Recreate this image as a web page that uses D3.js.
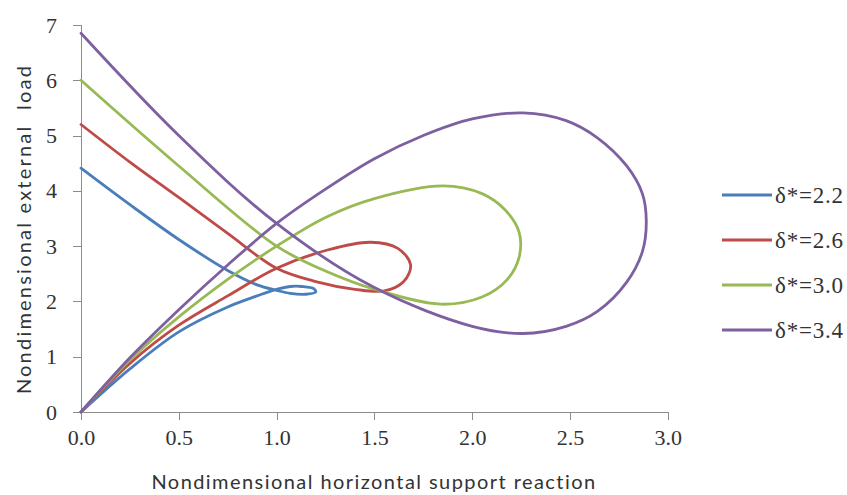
<!DOCTYPE html>
<html>
<head>
<meta charset="utf-8">
<script src="https://cdn.jsdelivr.net/npm/d3@7"></script>
<style>
  html, body { margin: 0; padding: 0; background: #fff; }
  svg { display: block; }
  .axis path, .axis line { stroke: #8c8c8c; stroke-width: 1; shape-rendering: crispEdges; }
</style>
</head>
<body>
<svg id="chart" width="847" height="495"></svg>
<script>
// Load–reaction paths (horizontal support reaction, external load), listed in path order:
// from the load axis down the descending branch, round the loop, back to the origin.
const delta22 = [[0,4.41],[0.25,3.75],[0.5,3.12],[0.75,2.56],[0.9,2.3],[1.0,2.2],[1.07,2.145],
  [1.15,2.13],[1.2,2.17],[1.19,2.23],[1.13,2.27],[1.07,2.27],[0.99,2.21],[0.9,2.1],[0.75,1.9],
  [0.5,1.45],[0.25,0.78],[0,0]];
const delta26 = [[0,5.2],[0.25,4.52],[0.5,3.88],[0.75,3.23],[1.0,2.6],[1.2,2.36],[1.4,2.22],[1.55,2.19],
  [1.65,2.36],[1.685,2.66],[1.62,2.96],[1.48,3.07],[1.26,2.93],[1.0,2.6],[0.75,2.1],[0.5,1.57],
  [0.25,0.88],[0,0]];
const delta30 = [[0,6.0],[0.5,4.45],[1.0,3.0],[1.25,2.55],[1.5,2.22],[1.84,1.95],[2.05,2.08],
  [2.18,2.4],[2.24,2.8],[2.24,3.25],[2.17,3.65],[2.05,3.95],[1.85,4.09],[1.5,3.86],[1.25,3.52],
  [1.0,3.0],[0.75,2.4],[0.5,1.72],[0.25,0.94],[0,0]];
const delta34 = [[0,6.85],[0.5,5.0],[1.0,3.41],[1.5,2.25],[2.0,1.55],[2.26,1.42],[2.48,1.55],
  [2.64,1.82],[2.79,2.35],[2.87,2.9],[2.89,3.45],[2.87,3.95],[2.79,4.45],[2.64,4.96],[2.48,5.27],
  [2.26,5.41],[2.0,5.3],[1.75,5.0],[1.5,4.58],[1.25,4.03],[1.0,3.41],[0.75,2.66],[0.5,1.85],
  [0.25,0.98],[0,0]];

const seriesNames = ["δ*=2.2", "δ*=2.6", "δ*=3.0", "δ*=3.4"];
const seriesData = [delta22, delta26, delta30, delta34];
const seriesColors = ["#4a7ebb", "#be4b48", "#98b954", "#7d60a0"];

const xTicks = [0, 0.5, 1.0, 1.5, 2.0, 2.5, 3.0];
const yTicks = [0, 1, 2, 3, 4, 5, 6, 7];
const xTitle = "Nondimensional horizontal support reaction";
const yTitle = "Nondimensional external\u00a0 load";

const serif = '"Liberation Serif", "Times New Roman", "DejaVu Serif", serif';
const sans = 'Lato, "Open Sans", sans-serif';
const textColor = "#333";

const svg = d3.select("#chart");
const x = d3.scaleLinear().domain([0, 3]).range([81, 667.8]);
const y = d3.scaleLinear().domain([0, 7]).range([412, 25]);

// axes
const gx = svg.append("g").attr("class", "axis")
  .attr("transform", "translate(0,412)")
  .call(d3.axisBottom(x).tickValues(xTicks).tickSize(8).tickPadding(9).tickFormat(d3.format(".1f")));
const gy = svg.append("g").attr("class", "axis")
  .attr("transform", "translate(81,0)")
  .call(d3.axisLeft(y).tickValues(yTicks).tickSize(8).tickPadding(16).tickFormat(d3.format("d")));
[gx, gy].forEach(g => {
  g.attr("font-family", null).attr("font-size", null);
  g.selectAll("text")
    .style("font-family", serif).style("font-size", "22px").style("fill", textColor);
});

// curves
const line = d3.line().x(d => x(d[0])).y(d => y(d[1])).curve(d3.curveCatmullRom.alpha(0.5));
svg.append("g").selectAll("path").data(seriesData).join("path")
  .attr("d", line)
  .attr("fill", "none")
  .attr("stroke", (d, i) => seriesColors[i])
  .attr("stroke-width", 2.8)
  .attr("stroke-linejoin", "round")
  .attr("stroke-linecap", "round");

// axis titles: set size, then spread the letters to the wanted run length
function spread(sel, width) {
  const w = sel.node().getComputedTextLength();
  const n = sel.text().length;
  sel.style("letter-spacing", ((width - w) / (n - 1)).toFixed(3) + "px");
}
const xt = svg.append("text")
  .attr("x", 374).attr("y", 489).attr("text-anchor", "middle")
  .style("font-family", sans).style("font-size", "20px").style("fill", textColor)
  .text(xTitle);
spread(xt, 444);
const yt = svg.append("text")
  .attr("transform", "translate(31,229) rotate(-90)").attr("text-anchor", "middle")
  .style("font-family", sans).style("font-size", "20px").style("fill", textColor)
  .text(yTitle);
spread(yt, 328);

// legend
const rows = svg.append("g").selectAll("g").data(seriesNames).join("g")
  .attr("transform", (d, i) => `translate(0,${195 + i * 45})`);
rows.append("line")
  .attr("x1", 722).attr("x2", 772).attr("y1", 0).attr("y2", 0)
  .attr("stroke", (d, i) => seriesColors[i]).attr("stroke-width", 3.2);
rows.append("text")
  .attr("x", 775).attr("y", 0).attr("dy", "0.35em")
  .style("font-family", serif).style("font-size", "23px").style("letter-spacing", "0.8px")
  .style("fill", textColor)
  .text(d => d);
</script>
</body>
</html>
